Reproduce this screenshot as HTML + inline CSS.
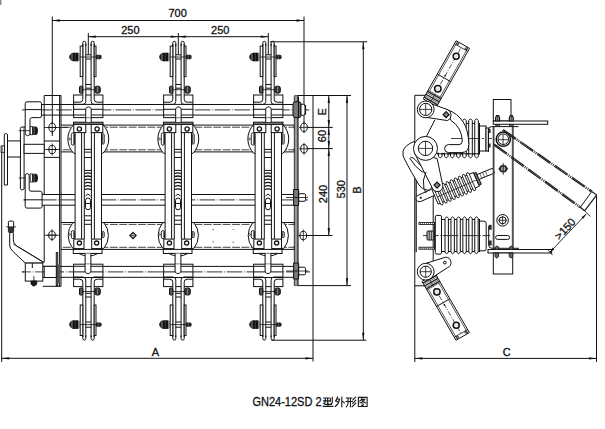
<!DOCTYPE html>
<html><head><meta charset="utf-8"><style>
html,body{margin:0;padding:0;background:#fff;}
svg{display:block;}
text{font-family:"Liberation Sans",sans-serif;fill:#111;stroke:#111;stroke-width:0.3px;}
</style></head><body>
<svg width="605" height="429" viewBox="0 0 605 429" stroke="#111" stroke-width="1" fill="none">
<line x1="52.3" y1="16.5" x2="52.3" y2="136" />
<line x1="304" y1="16.5" x2="304" y2="132" />
<line x1="52.3" y1="20.5" x2="304" y2="20.5" />
<path d="M52.3,20.5 L59.8,19.35 L59.8,21.65Z" fill="#111" stroke="none"/>
<path d="M304,20.5 L296.5,21.65 L296.5,19.35Z" fill="#111" stroke="none"/>
<text x="177.6" y="16.8" font-size="11" text-anchor="middle">700</text>
<line x1="88.3" y1="33" x2="88.3" y2="54.4" />
<line x1="178.3" y1="33" x2="178.3" y2="54.4" />
<line x1="268.3" y1="33" x2="268.3" y2="54.4" />
<line x1="88.3" y1="36.7" x2="268.3" y2="36.7" />
<path d="M88.3,36.7 L95.8,35.55 L95.8,37.85Z" fill="#111" stroke="none"/>
<path d="M178.3,36.7 L170.8,37.85 L170.8,35.55Z" fill="#111" stroke="none"/>
<path d="M178.3,36.7 L185.8,35.55 L185.8,37.85Z" fill="#111" stroke="none"/>
<path d="M268.3,36.7 L260.8,37.85 L260.8,35.55Z" fill="#111" stroke="none"/>
<text x="130.4" y="34.1" font-size="11" text-anchor="middle">250</text>
<text x="220.2" y="34.1" font-size="11" text-anchor="middle">250</text>
<line x1="270" y1="41.8" x2="367.2" y2="41.8" />
<line x1="295" y1="95.5" x2="351" y2="95.5" />
<line x1="313" y1="95.5" x2="313" y2="361.5" />
<line x1="328.8" y1="95.5" x2="328.8" y2="235.5" />
<path d="M328.8,95.5 L329.95,103 L327.65,103Z" fill="#111" stroke="none"/>
<path d="M328.8,127.4 L327.65,119.9 L329.95,119.9Z" fill="#111" stroke="none"/>
<path d="M328.8,127.4 L329.95,134.9 L327.65,134.9Z" fill="#111" stroke="none"/>
<path d="M328.8,148.6 L327.65,141.1 L329.95,141.1Z" fill="#111" stroke="none"/>
<path d="M328.8,148.6 L329.95,156.1 L327.65,156.1Z" fill="#111" stroke="none"/>
<path d="M328.8,235.5 L327.65,228 L329.95,228Z" fill="#111" stroke="none"/>
<line x1="300" y1="127.4" x2="332.8" y2="127.4" />
<line x1="300" y1="148.6" x2="332.8" y2="148.6" />
<line x1="299" y1="235.5" x2="332.5" y2="235.5" />
<line x1="347" y1="95.5" x2="347" y2="285.6" />
<path d="M347,95.5 L348.15,103 L345.85,103Z" fill="#111" stroke="none"/>
<path d="M347,285.6 L345.85,278.1 L348.15,278.1Z" fill="#111" stroke="none"/>
<line x1="294.6" y1="285.6" x2="351" y2="285.6" />
<line x1="363.3" y1="41.8" x2="363.3" y2="340.2" />
<path d="M363.3,41.8 L364.45,49.3 L362.15,49.3Z" fill="#111" stroke="none"/>
<path d="M363.3,340.2 L362.15,332.7 L364.45,332.7Z" fill="#111" stroke="none"/>
<line x1="271.5" y1="340.2" x2="366.4" y2="340.2" />
<text x="0" y="0" font-size="11" text-anchor="middle" transform="translate(326,111.8) rotate(-90)">E</text>
<text x="0" y="0" font-size="11" text-anchor="middle" transform="translate(326,136) rotate(-90)">60</text>
<text x="0" y="0" font-size="11" text-anchor="middle" transform="translate(326.5,194) rotate(-90)">240</text>
<text x="0" y="0" font-size="11" text-anchor="middle" transform="translate(344.6,189.3) rotate(-90)">530</text>
<text x="0" y="0" font-size="11" text-anchor="middle" transform="translate(361.3,190) rotate(-90)">B</text>
<line x1="1.7" y1="146" x2="1.7" y2="362" />
<line x1="1.7" y1="358.3" x2="313" y2="358.3" />
<path d="M1.7,358.3 L9.2,357.15 L9.2,359.45Z" fill="#111" stroke="none"/>
<path d="M313,358.3 L305.5,359.45 L305.5,357.15Z" fill="#111" stroke="none"/>
<text x="155.3" y="356" font-size="11" text-anchor="middle">A</text>
<line x1="41.5" y1="104.5" x2="293" y2="104.5" />
<line x1="41.5" y1="115.1" x2="293" y2="115.1" />
<line x1="22" y1="109.9" x2="310" y2="109.9" stroke-dasharray="15.6 1.7 0.8 1.7" stroke-dashoffset="5.4" stroke="#333"/>
<line x1="61" y1="125.1" x2="294.5" y2="125.1" />
<line x1="61" y1="151.9" x2="294.5" y2="151.9" />
<line x1="61" y1="127.2" x2="294.5" y2="127.2" stroke-dasharray="7.9 1.5" stroke-dashoffset="7.55" stroke="#444"/>
<line x1="61" y1="149.8" x2="294.5" y2="149.8" stroke-dasharray="7.9 1.5" stroke-dashoffset="7.55" stroke="#444"/>
<line x1="41.5" y1="194.5" x2="294.5" y2="194.5" />
<line x1="41.5" y1="205.2" x2="294.5" y2="205.2" />
<line x1="23.4" y1="199.9" x2="308" y2="199.9" stroke-dasharray="15.6 1.7 0.8 1.7" stroke-dashoffset="2.1" stroke="#333"/>
<line x1="61" y1="222.5" x2="294.5" y2="222.5" />
<line x1="61" y1="249.4" x2="294.5" y2="249.4" />
<line x1="61" y1="224.4" x2="294.5" y2="224.4" stroke-dasharray="7.9 1.5" stroke-dashoffset="7.55" stroke="#444"/>
<line x1="61" y1="247.3" x2="294.5" y2="247.3" stroke-dasharray="7.9 1.5" stroke-dashoffset="7.55" stroke="#444"/>
<line x1="42.8" y1="266.4" x2="294.5" y2="266.4" />
<line x1="42.8" y1="277.3" x2="294.5" y2="277.3" />
<line x1="21.9" y1="271.9" x2="310" y2="271.9" stroke-dasharray="15.6 1.7 0.8 1.7" stroke-dashoffset="13" stroke="#333"/>
<line x1="294.2" y1="125.2" x2="294.2" y2="128.5" />
<line x1="294.2" y1="148.5" x2="294.2" y2="151.3" />
<line x1="294.2" y1="222.4" x2="294.2" y2="225.5" />
<line x1="294.2" y1="246" x2="294.2" y2="249" />
<path d="M133,232.3 L136.2,235.5 L133,238.7 L129.8,235.5 Z" fill="#fff" stroke-width="1.1"/>
<line x1="130.6" y1="235.5" x2="135.4" y2="235.5" stroke-width="0.6" />
<line x1="133" y1="233.1" x2="133" y2="237.9" stroke-width="0.6" />
<circle cx="213.1" cy="229.7" r="0.6" fill="#333" stroke="none"/>
<circle cx="233.2" cy="229.5" r="0.6" fill="#333" stroke="none"/>
<circle cx="213.1" cy="241.9" r="0.6" fill="#333" stroke="none"/>
<circle cx="233.2" cy="242.2" r="0.6" fill="#333" stroke="none"/>
<line x1="44.2" y1="95.5" x2="44.2" y2="194.5" />
<line x1="44.2" y1="205.2" x2="44.2" y2="262.2" />
<line x1="59.6" y1="95.5" x2="59.6" y2="286.3" />
<line x1="61" y1="95.5" x2="61" y2="286.3" />
<line x1="44.2" y1="95.5" x2="61" y2="95.5" />
<line x1="42.8" y1="286.3" x2="61" y2="286.3" />
<line x1="44.2" y1="141" x2="59.6" y2="141" />
<line x1="44.2" y1="157.4" x2="59.6" y2="157.4" />
<rect x="294.3" y="95.5" width="3.7" height="190.1" fill="#9a9a9a" stroke="none"/>
<line x1="294.3" y1="95.5" x2="294.3" y2="285.6" stroke-width="0.8" />
<line x1="298" y1="95.5" x2="298" y2="285.6" stroke-width="1.1" />
<path d="M73.8,124.6 A20.4,20.4 0 0,0 73.8,153.4 L102.8,153.4 A20.4,20.4 0 0,0 102.8,124.6 Z" fill="#fff"/>
<path d="M72.8,222.6 A20.3,20.3 0 0,0 72.8,248.4 L103.8,248.4 A20.3,20.3 0 0,0 103.8,222.6 Z" fill="#fff"/>
<rect x="71.3" y="132.9" width="3.3" height="12.2" rx="1.6" fill="#fff" stroke-width="0.9"/>
<rect x="73.4" y="133.9" width="1.1" height="10.2" fill="#222" stroke="none"/>
<circle cx="69.5" cy="139" r="0.9" fill="#fff" stroke-width="0.7"/>
<rect x="101.8" y="133.9" width="2.4" height="10.2" rx="1" fill="#ddd" stroke-width="0.9"/>
<rect x="101.8" y="134.9" width="0.9" height="8.2" fill="#333" stroke="none"/>
<rect x="71.3" y="230.6" width="3.3" height="8" rx="1.6" fill="#fff" stroke-width="0.9"/>
<rect x="73.4" y="231.6" width="1.1" height="6" fill="#222" stroke="none"/>
<circle cx="69.5" cy="234.6" r="0.9" fill="#fff" stroke-width="0.7"/>
<rect x="101.8" y="231.6" width="2.4" height="6" rx="1" fill="#ddd" stroke-width="0.9"/>
<rect x="101.8" y="232.6" width="0.9" height="4" fill="#333" stroke="none"/>
<rect x="75.1" y="122" width="26.4" height="131.5" fill="#fff" stroke="none"/>
<line x1="75.1" y1="132.6" x2="75.1" y2="239.1" />
<line x1="81.6" y1="132.6" x2="81.6" y2="239.1" />
<line x1="84.3" y1="132.6" x2="84.3" y2="239.1" />
<line x1="91.4" y1="132.6" x2="91.4" y2="239.1" />
<line x1="94.4" y1="132.6" x2="94.4" y2="239.1" />
<line x1="101.5" y1="132.6" x2="101.5" y2="239.1" />
<rect x="73.5" y="122.2" width="29.5" height="2.2" fill="#888"/>
<rect x="73.8" y="124.4" width="12" height="8.2" fill="#fff"/>
<rect x="91.2" y="124.4" width="11.6" height="8.2" fill="#fff"/>
<circle cx="79.4" cy="129" r="2.1" fill="#fff" stroke-width="1.3"/>
<circle cx="97.1" cy="129" r="2.1" fill="#fff" stroke-width="1.3"/>
<rect x="73.8" y="239.1" width="10.2" height="9.5" fill="#fff"/>
<rect x="91.7" y="239.1" width="9.8" height="9.5" fill="#fff"/>
<circle cx="79.4" cy="243.1" r="2.1" fill="#fff" stroke-width="1.3"/>
<circle cx="96.6" cy="243.1" r="2.1" fill="#fff" stroke-width="1.3"/>
<rect x="73.3" y="249.4" width="28.7" height="4.1" fill="#fff"/>
<path d="M78.5,253.4 A20.3,20.3 0 0,0 98.1,253.4 Z" fill="#fff"/>
<path d="M85.7,122 V108.5 Q88.45,105.3 91.2,108.5 V122" fill="#fff"/>
<path d="M85.1,253.5 V272 Q88,275.2 90.9,272 V253.5" fill="#fff"/>
<line x1="84.3" y1="149.4" x2="91.4" y2="149.4" />
<line x1="84.3" y1="152.1" x2="91.4" y2="152.1" />
<line x1="84.3" y1="157.5" x2="91.4" y2="157.5" />
<line x1="84.3" y1="170.4" x2="91.4" y2="170.4" />
<line x1="84.3" y1="215.8" x2="91.4" y2="215.8" />
<line x1="84.3" y1="220.2" x2="91.4" y2="220.2" />
<line x1="84.3" y1="224.3" x2="91.4" y2="224.3" />
<path d="M84.7,173.5 Q87.9,172.1 91.1,173.5" stroke-width="1.3"/>
<path d="M84.7,176.7 Q87.9,175.3 91.1,176.7" stroke-width="1.3"/>
<path d="M84.7,179.9 Q87.9,178.5 91.1,179.9" stroke-width="1.3"/>
<path d="M84.7,183.1 Q87.9,181.7 91.1,183.1" stroke-width="1.3"/>
<path d="M84.7,186.3 Q87.9,184.9 91.1,186.3" stroke-width="1.3"/>
<path d="M84.7,189.5 Q87.9,188.1 91.1,189.5" stroke-width="1.3"/>
<path d="M85.5,196 L87.9,194 L90.5,196" />
<rect x="85.5" y="198" width="5" height="11.8" rx="2.5" fill="#fff"/>
<line x1="85.5" y1="203.5" x2="90.5" y2="203.5" />
<rect x="73.6" y="95" width="29.3" height="22.6" fill="#fff"/>
<line x1="73.6" y1="104.4" x2="102.9" y2="104.4" />
<line x1="73.6" y1="109.3" x2="102.9" y2="109.3" />
<line x1="73.6" y1="115" x2="102.9" y2="115" />
<rect x="73.6" y="264.2" width="29.3" height="22.4" fill="#fff"/>
<line x1="73.6" y1="266.3" x2="102.9" y2="266.3" />
<line x1="73.6" y1="271.9" x2="102.9" y2="271.9" />
<line x1="73.6" y1="277.5" x2="102.9" y2="277.5" />
<path d="M85.7,117.6 V108.5 Q88.45,105.3 91.2,108.5 V117.6" fill="#fff"/>
<path d="M85.1,264.2 V272 Q88,275.2 90.9,272 V264.2" fill="#fff"/>
<rect x="82.8" y="44" width="3" height="58.2" fill="#fff" stroke="none"/>
<rect x="91.1" y="44" width="3.1" height="58.2" fill="#fff" stroke="none"/>
<path d="M82.8,44 V99.2 Q82.8,102.2 79.8,102.2 H73.6" />
<path d="M85.8,44 V101.4 Q85.8,104.4 82.8,104.4 H73.6" />
<path d="M94.2,44 V99.2 Q94.2,102.2 97.2,102.2 H102.9" />
<path d="M91.1,44 V101.4 Q91.1,104.4 94.1,104.4 H102.9" />
<rect x="82.8" y="279.2" width="3" height="57.8" fill="#fff" stroke="none"/>
<rect x="91.1" y="279.2" width="3.1" height="57.8" fill="#fff" stroke="none"/>
<path d="M82.8,337 V282.2 Q82.8,279.2 79.8,279.2 H73.6" />
<path d="M85.8,337 V280 Q85.8,277 82.8,277 H73.6" />
<path d="M94.2,337 V282.2 Q94.2,279.2 97.2,279.2 H102.9" />
<path d="M91.1,337 V280 Q91.1,277 94.1,277 H102.9" />
<rect x="80.2" y="46.1" width="2.6" height="30.5" fill="#fff"/>
<rect x="94.2" y="46.1" width="1.8" height="30.5" fill="#fff"/>
<rect x="80.2" y="305" width="2.6" height="30.5" fill="#fff"/>
<rect x="94.2" y="305" width="1.8" height="30.5" fill="#fff"/>
<path d="M82.8,46 V42.8 A1.5,1.5 0 0,1 85.8,42.8 V46" />
<path d="M91.1,46 V42.8 A1.55,1.55 0 0,1 94.2,42.8 V46" />
<path d="M82.8,335.5 V338.6 A1.5,1.5 0 0,0 85.8,338.6 V335.5" />
<path d="M91.1,335.5 V338.6 A1.55,1.55 0 0,0 94.2,338.6 V335.5" />
<line x1="85.8" y1="54.8" x2="91.1" y2="54.8" />
<line x1="85.8" y1="59" x2="91.1" y2="59" />
<line x1="85.8" y1="84.5" x2="91.1" y2="84.5" />
<line x1="85.8" y1="88.2" x2="91.1" y2="88.2" />
<line x1="85.8" y1="297" x2="91.1" y2="297" />
<line x1="85.8" y1="322" x2="91.1" y2="322" />
<line x1="85.8" y1="327.2" x2="91.1" y2="327.2" />
<line x1="85.8" y1="293.3" x2="91.1" y2="293.3" />
<path d="M73,52.7 Q70.3,53.2 69,57 Q70.3,60.8 73,61.3 Z" fill="#222" stroke="none"/>
<rect x="73" y="52.7" width="5.5" height="8.6" fill="#111" stroke="none"/>
<rect x="78.5" y="53.4" width="1.7" height="7.2" fill="#777" stroke="none"/>
<line x1="72" y1="53.8" x2="72" y2="60.2" stroke-width="0.7" stroke="#aaa"/>
<line x1="75.3" y1="53" x2="75.3" y2="61" stroke-width="0.6" stroke="#555"/>
<path d="M95.9,54.8 H99.9 Q101.7,54.8 101.7,57 Q101.7,59.2 99.9,59.2 H95.9 Z" fill="#222" stroke="none"/>
<line x1="98.3" y1="55" x2="98.3" y2="59" stroke-width="0.5" stroke="#888"/>
<line x1="80.1" y1="57" x2="96" y2="57" stroke-width="0.8" />
<path d="M73,320.3 Q70.3,320.8 69,324.6 Q70.3,328.4 73,328.9 Z" fill="#222" stroke="none"/>
<rect x="73" y="320.3" width="5.5" height="8.6" fill="#111" stroke="none"/>
<rect x="78.5" y="321" width="1.7" height="7.2" fill="#777" stroke="none"/>
<line x1="72" y1="321.4" x2="72" y2="327.8" stroke-width="0.7" stroke="#aaa"/>
<line x1="75.3" y1="320.6" x2="75.3" y2="328.6" stroke-width="0.6" stroke="#555"/>
<path d="M95.9,322.4 H99.9 Q101.7,322.4 101.7,324.6 Q101.7,326.8 99.9,326.8 H95.9 Z" fill="#222" stroke="none"/>
<line x1="98.3" y1="322.6" x2="98.3" y2="326.6" stroke-width="0.5" stroke="#888"/>
<line x1="80.1" y1="324.6" x2="96" y2="324.6" stroke-width="0.8" />
<rect x="79.5" y="86.2" width="3.3" height="7" rx="1" fill="#3a3a3a"/>
<rect x="94.8" y="86.2" width="5.5" height="7" rx="2" fill="#3a3a3a"/>
<line x1="81.1" y1="86.7" x2="81.1" y2="92.7" stroke-width="0.6" stroke="#aaa"/>
<line x1="97.5" y1="86.7" x2="97.5" y2="92.7" stroke-width="0.6" stroke="#aaa"/>
<line x1="82.8" y1="89.7" x2="94.8" y2="89.7" stroke-width="0.8" />
<rect x="79.5" y="288" width="3.3" height="7" rx="1" fill="#3a3a3a"/>
<rect x="94.8" y="288" width="5.5" height="7" rx="2" fill="#3a3a3a"/>
<line x1="81.1" y1="288.5" x2="81.1" y2="294.5" stroke-width="0.6" stroke="#aaa"/>
<line x1="97.5" y1="288.5" x2="97.5" y2="294.5" stroke-width="0.6" stroke="#aaa"/>
<line x1="82.8" y1="291.5" x2="94.8" y2="291.5" stroke-width="0.8" />
<path d="M163.8,124.6 A20.4,20.4 0 0,0 163.8,153.4 L192.8,153.4 A20.4,20.4 0 0,0 192.8,124.6 Z" fill="#fff"/>
<path d="M162.8,222.6 A20.3,20.3 0 0,0 162.8,248.4 L193.8,248.4 A20.3,20.3 0 0,0 193.8,222.6 Z" fill="#fff"/>
<rect x="161.3" y="132.9" width="3.3" height="12.2" rx="1.6" fill="#fff" stroke-width="0.9"/>
<rect x="163.4" y="133.9" width="1.1" height="10.2" fill="#222" stroke="none"/>
<circle cx="159.5" cy="139" r="0.9" fill="#fff" stroke-width="0.7"/>
<rect x="191.8" y="133.9" width="2.4" height="10.2" rx="1" fill="#ddd" stroke-width="0.9"/>
<rect x="191.8" y="134.9" width="0.9" height="8.2" fill="#333" stroke="none"/>
<rect x="161.3" y="230.6" width="3.3" height="8" rx="1.6" fill="#fff" stroke-width="0.9"/>
<rect x="163.4" y="231.6" width="1.1" height="6" fill="#222" stroke="none"/>
<circle cx="159.5" cy="234.6" r="0.9" fill="#fff" stroke-width="0.7"/>
<rect x="191.8" y="231.6" width="2.4" height="6" rx="1" fill="#ddd" stroke-width="0.9"/>
<rect x="191.8" y="232.6" width="0.9" height="4" fill="#333" stroke="none"/>
<rect x="165.1" y="122" width="26.4" height="131.5" fill="#fff" stroke="none"/>
<line x1="165.1" y1="132.6" x2="165.1" y2="239.1" />
<line x1="171.6" y1="132.6" x2="171.6" y2="239.1" />
<line x1="174.3" y1="132.6" x2="174.3" y2="239.1" />
<line x1="181.4" y1="132.6" x2="181.4" y2="239.1" />
<line x1="184.4" y1="132.6" x2="184.4" y2="239.1" />
<line x1="191.5" y1="132.6" x2="191.5" y2="239.1" />
<rect x="163.5" y="122.2" width="29.5" height="2.2" fill="#888"/>
<rect x="163.8" y="124.4" width="12" height="8.2" fill="#fff"/>
<rect x="181.2" y="124.4" width="11.6" height="8.2" fill="#fff"/>
<circle cx="169.4" cy="129" r="2.1" fill="#fff" stroke-width="1.3"/>
<circle cx="187.1" cy="129" r="2.1" fill="#fff" stroke-width="1.3"/>
<rect x="163.8" y="239.1" width="10.2" height="9.5" fill="#fff"/>
<rect x="181.7" y="239.1" width="9.8" height="9.5" fill="#fff"/>
<circle cx="169.4" cy="243.1" r="2.1" fill="#fff" stroke-width="1.3"/>
<circle cx="186.6" cy="243.1" r="2.1" fill="#fff" stroke-width="1.3"/>
<rect x="163.3" y="249.4" width="28.7" height="4.1" fill="#fff"/>
<path d="M168.5,253.4 A20.3,20.3 0 0,0 188.1,253.4 Z" fill="#fff"/>
<path d="M175.7,122 V108.5 Q178.45,105.3 181.2,108.5 V122" fill="#fff"/>
<path d="M175.1,253.5 V272 Q178,275.2 180.9,272 V253.5" fill="#fff"/>
<line x1="174.3" y1="149.4" x2="181.4" y2="149.4" />
<line x1="174.3" y1="152.1" x2="181.4" y2="152.1" />
<line x1="174.3" y1="157.5" x2="181.4" y2="157.5" />
<line x1="174.3" y1="170.4" x2="181.4" y2="170.4" />
<line x1="174.3" y1="215.8" x2="181.4" y2="215.8" />
<line x1="174.3" y1="220.2" x2="181.4" y2="220.2" />
<line x1="174.3" y1="224.3" x2="181.4" y2="224.3" />
<path d="M174.7,173.5 Q177.9,172.1 181.1,173.5" stroke-width="1.3"/>
<path d="M174.7,176.7 Q177.9,175.3 181.1,176.7" stroke-width="1.3"/>
<path d="M174.7,179.9 Q177.9,178.5 181.1,179.9" stroke-width="1.3"/>
<path d="M174.7,183.1 Q177.9,181.7 181.1,183.1" stroke-width="1.3"/>
<path d="M174.7,186.3 Q177.9,184.9 181.1,186.3" stroke-width="1.3"/>
<path d="M174.7,189.5 Q177.9,188.1 181.1,189.5" stroke-width="1.3"/>
<path d="M175.5,196 L177.9,194 L180.5,196" />
<rect x="175.5" y="198" width="5" height="11.8" rx="2.5" fill="#fff"/>
<line x1="175.5" y1="203.5" x2="180.5" y2="203.5" />
<rect x="163.6" y="95" width="29.3" height="22.6" fill="#fff"/>
<line x1="163.6" y1="104.4" x2="192.9" y2="104.4" />
<line x1="163.6" y1="109.3" x2="192.9" y2="109.3" />
<line x1="163.6" y1="115" x2="192.9" y2="115" />
<rect x="163.6" y="264.2" width="29.3" height="22.4" fill="#fff"/>
<line x1="163.6" y1="266.3" x2="192.9" y2="266.3" />
<line x1="163.6" y1="271.9" x2="192.9" y2="271.9" />
<line x1="163.6" y1="277.5" x2="192.9" y2="277.5" />
<path d="M175.7,117.6 V108.5 Q178.45,105.3 181.2,108.5 V117.6" fill="#fff"/>
<path d="M175.1,264.2 V272 Q178,275.2 180.9,272 V264.2" fill="#fff"/>
<rect x="172.8" y="44" width="3" height="58.2" fill="#fff" stroke="none"/>
<rect x="181.1" y="44" width="3.1" height="58.2" fill="#fff" stroke="none"/>
<path d="M172.8,44 V99.2 Q172.8,102.2 169.8,102.2 H163.6" />
<path d="M175.8,44 V101.4 Q175.8,104.4 172.8,104.4 H163.6" />
<path d="M184.2,44 V99.2 Q184.2,102.2 187.2,102.2 H192.9" />
<path d="M181.1,44 V101.4 Q181.1,104.4 184.1,104.4 H192.9" />
<rect x="172.8" y="279.2" width="3" height="57.8" fill="#fff" stroke="none"/>
<rect x="181.1" y="279.2" width="3.1" height="57.8" fill="#fff" stroke="none"/>
<path d="M172.8,337 V282.2 Q172.8,279.2 169.8,279.2 H163.6" />
<path d="M175.8,337 V280 Q175.8,277 172.8,277 H163.6" />
<path d="M184.2,337 V282.2 Q184.2,279.2 187.2,279.2 H192.9" />
<path d="M181.1,337 V280 Q181.1,277 184.1,277 H192.9" />
<rect x="170.2" y="46.1" width="2.6" height="30.5" fill="#fff"/>
<rect x="184.2" y="46.1" width="1.8" height="30.5" fill="#fff"/>
<rect x="170.2" y="305" width="2.6" height="30.5" fill="#fff"/>
<rect x="184.2" y="305" width="1.8" height="30.5" fill="#fff"/>
<path d="M172.8,46 V42.8 A1.5,1.5 0 0,1 175.8,42.8 V46" />
<path d="M181.1,46 V42.8 A1.55,1.55 0 0,1 184.2,42.8 V46" />
<path d="M172.8,335.5 V338.6 A1.5,1.5 0 0,0 175.8,338.6 V335.5" />
<path d="M181.1,335.5 V338.6 A1.55,1.55 0 0,0 184.2,338.6 V335.5" />
<line x1="175.8" y1="54.8" x2="181.1" y2="54.8" />
<line x1="175.8" y1="59" x2="181.1" y2="59" />
<line x1="175.8" y1="84.5" x2="181.1" y2="84.5" />
<line x1="175.8" y1="88.2" x2="181.1" y2="88.2" />
<line x1="175.8" y1="297" x2="181.1" y2="297" />
<line x1="175.8" y1="322" x2="181.1" y2="322" />
<line x1="175.8" y1="327.2" x2="181.1" y2="327.2" />
<line x1="175.8" y1="293.3" x2="181.1" y2="293.3" />
<path d="M163,52.7 Q160.3,53.2 159,57 Q160.3,60.8 163,61.3 Z" fill="#222" stroke="none"/>
<rect x="163" y="52.7" width="5.5" height="8.6" fill="#111" stroke="none"/>
<rect x="168.5" y="53.4" width="1.7" height="7.2" fill="#777" stroke="none"/>
<line x1="162" y1="53.8" x2="162" y2="60.2" stroke-width="0.7" stroke="#aaa"/>
<line x1="165.3" y1="53" x2="165.3" y2="61" stroke-width="0.6" stroke="#555"/>
<path d="M185.9,54.8 H189.9 Q191.7,54.8 191.7,57 Q191.7,59.2 189.9,59.2 H185.9 Z" fill="#222" stroke="none"/>
<line x1="188.3" y1="55" x2="188.3" y2="59" stroke-width="0.5" stroke="#888"/>
<line x1="170.1" y1="57" x2="186" y2="57" stroke-width="0.8" />
<path d="M163,320.3 Q160.3,320.8 159,324.6 Q160.3,328.4 163,328.9 Z" fill="#222" stroke="none"/>
<rect x="163" y="320.3" width="5.5" height="8.6" fill="#111" stroke="none"/>
<rect x="168.5" y="321" width="1.7" height="7.2" fill="#777" stroke="none"/>
<line x1="162" y1="321.4" x2="162" y2="327.8" stroke-width="0.7" stroke="#aaa"/>
<line x1="165.3" y1="320.6" x2="165.3" y2="328.6" stroke-width="0.6" stroke="#555"/>
<path d="M185.9,322.4 H189.9 Q191.7,322.4 191.7,324.6 Q191.7,326.8 189.9,326.8 H185.9 Z" fill="#222" stroke="none"/>
<line x1="188.3" y1="322.6" x2="188.3" y2="326.6" stroke-width="0.5" stroke="#888"/>
<line x1="170.1" y1="324.6" x2="186" y2="324.6" stroke-width="0.8" />
<rect x="169.5" y="86.2" width="3.3" height="7" rx="1" fill="#3a3a3a"/>
<rect x="184.8" y="86.2" width="5.5" height="7" rx="2" fill="#3a3a3a"/>
<line x1="171.1" y1="86.7" x2="171.1" y2="92.7" stroke-width="0.6" stroke="#aaa"/>
<line x1="187.5" y1="86.7" x2="187.5" y2="92.7" stroke-width="0.6" stroke="#aaa"/>
<line x1="172.8" y1="89.7" x2="184.8" y2="89.7" stroke-width="0.8" />
<rect x="169.5" y="288" width="3.3" height="7" rx="1" fill="#3a3a3a"/>
<rect x="184.8" y="288" width="5.5" height="7" rx="2" fill="#3a3a3a"/>
<line x1="171.1" y1="288.5" x2="171.1" y2="294.5" stroke-width="0.6" stroke="#aaa"/>
<line x1="187.5" y1="288.5" x2="187.5" y2="294.5" stroke-width="0.6" stroke="#aaa"/>
<line x1="172.8" y1="291.5" x2="184.8" y2="291.5" stroke-width="0.8" />
<path d="M253.8,124.6 A20.4,20.4 0 0,0 253.8,153.4 L282.8,153.4 A20.4,20.4 0 0,0 282.8,124.6 Z" fill="#fff"/>
<path d="M252.8,222.6 A20.3,20.3 0 0,0 252.8,248.4 L283.8,248.4 A20.3,20.3 0 0,0 283.8,222.6 Z" fill="#fff"/>
<rect x="251.3" y="132.9" width="3.3" height="12.2" rx="1.6" fill="#fff" stroke-width="0.9"/>
<rect x="253.4" y="133.9" width="1.1" height="10.2" fill="#222" stroke="none"/>
<circle cx="249.5" cy="139" r="0.9" fill="#fff" stroke-width="0.7"/>
<rect x="281.8" y="133.9" width="2.4" height="10.2" rx="1" fill="#ddd" stroke-width="0.9"/>
<rect x="281.8" y="134.9" width="0.9" height="8.2" fill="#333" stroke="none"/>
<rect x="251.3" y="230.6" width="3.3" height="8" rx="1.6" fill="#fff" stroke-width="0.9"/>
<rect x="253.4" y="231.6" width="1.1" height="6" fill="#222" stroke="none"/>
<circle cx="249.5" cy="234.6" r="0.9" fill="#fff" stroke-width="0.7"/>
<rect x="281.8" y="231.6" width="2.4" height="6" rx="1" fill="#ddd" stroke-width="0.9"/>
<rect x="281.8" y="232.6" width="0.9" height="4" fill="#333" stroke="none"/>
<rect x="255.1" y="122" width="26.4" height="131.5" fill="#fff" stroke="none"/>
<line x1="255.1" y1="132.6" x2="255.1" y2="239.1" />
<line x1="261.6" y1="132.6" x2="261.6" y2="239.1" />
<line x1="264.3" y1="132.6" x2="264.3" y2="239.1" />
<line x1="271.4" y1="132.6" x2="271.4" y2="239.1" />
<line x1="274.4" y1="132.6" x2="274.4" y2="239.1" />
<line x1="281.5" y1="132.6" x2="281.5" y2="239.1" />
<rect x="253.5" y="122.2" width="29.5" height="2.2" fill="#888"/>
<rect x="253.8" y="124.4" width="12" height="8.2" fill="#fff"/>
<rect x="271.2" y="124.4" width="11.6" height="8.2" fill="#fff"/>
<circle cx="259.4" cy="129" r="2.1" fill="#fff" stroke-width="1.3"/>
<circle cx="277.1" cy="129" r="2.1" fill="#fff" stroke-width="1.3"/>
<rect x="253.8" y="239.1" width="10.2" height="9.5" fill="#fff"/>
<rect x="271.7" y="239.1" width="9.8" height="9.5" fill="#fff"/>
<circle cx="259.4" cy="243.1" r="2.1" fill="#fff" stroke-width="1.3"/>
<circle cx="276.6" cy="243.1" r="2.1" fill="#fff" stroke-width="1.3"/>
<rect x="253.3" y="249.4" width="28.7" height="4.1" fill="#fff"/>
<path d="M258.5,253.4 A20.3,20.3 0 0,0 278.1,253.4 Z" fill="#fff"/>
<path d="M265.7,122 V108.5 Q268.45,105.3 271.2,108.5 V122" fill="#fff"/>
<path d="M265.1,253.5 V272 Q268,275.2 270.9,272 V253.5" fill="#fff"/>
<line x1="264.3" y1="149.4" x2="271.4" y2="149.4" />
<line x1="264.3" y1="152.1" x2="271.4" y2="152.1" />
<line x1="264.3" y1="157.5" x2="271.4" y2="157.5" />
<line x1="264.3" y1="170.4" x2="271.4" y2="170.4" />
<line x1="264.3" y1="215.8" x2="271.4" y2="215.8" />
<line x1="264.3" y1="220.2" x2="271.4" y2="220.2" />
<line x1="264.3" y1="224.3" x2="271.4" y2="224.3" />
<path d="M264.7,173.5 Q267.9,172.1 271.1,173.5" stroke-width="1.3"/>
<path d="M264.7,176.7 Q267.9,175.3 271.1,176.7" stroke-width="1.3"/>
<path d="M264.7,179.9 Q267.9,178.5 271.1,179.9" stroke-width="1.3"/>
<path d="M264.7,183.1 Q267.9,181.7 271.1,183.1" stroke-width="1.3"/>
<path d="M264.7,186.3 Q267.9,184.9 271.1,186.3" stroke-width="1.3"/>
<path d="M264.7,189.5 Q267.9,188.1 271.1,189.5" stroke-width="1.3"/>
<path d="M265.5,196 L267.9,194 L270.5,196" />
<rect x="265.5" y="198" width="5" height="11.8" rx="2.5" fill="#fff"/>
<line x1="265.5" y1="203.5" x2="270.5" y2="203.5" />
<rect x="253.6" y="95" width="29.3" height="22.6" fill="#fff"/>
<line x1="253.6" y1="104.4" x2="282.9" y2="104.4" />
<line x1="253.6" y1="109.3" x2="282.9" y2="109.3" />
<line x1="253.6" y1="115" x2="282.9" y2="115" />
<rect x="253.6" y="264.2" width="29.3" height="22.4" fill="#fff"/>
<line x1="253.6" y1="266.3" x2="282.9" y2="266.3" />
<line x1="253.6" y1="271.9" x2="282.9" y2="271.9" />
<line x1="253.6" y1="277.5" x2="282.9" y2="277.5" />
<path d="M265.7,117.6 V108.5 Q268.45,105.3 271.2,108.5 V117.6" fill="#fff"/>
<path d="M265.1,264.2 V272 Q268,275.2 270.9,272 V264.2" fill="#fff"/>
<rect x="262.8" y="44" width="3" height="58.2" fill="#fff" stroke="none"/>
<rect x="271.1" y="44" width="3.1" height="58.2" fill="#fff" stroke="none"/>
<path d="M262.8,44 V99.2 Q262.8,102.2 259.8,102.2 H253.6" />
<path d="M265.8,44 V101.4 Q265.8,104.4 262.8,104.4 H253.6" />
<path d="M274.2,44 V99.2 Q274.2,102.2 277.2,102.2 H282.9" />
<path d="M271.1,44 V101.4 Q271.1,104.4 274.1,104.4 H282.9" />
<rect x="262.8" y="279.2" width="3" height="57.8" fill="#fff" stroke="none"/>
<rect x="271.1" y="279.2" width="3.1" height="57.8" fill="#fff" stroke="none"/>
<path d="M262.8,337 V282.2 Q262.8,279.2 259.8,279.2 H253.6" />
<path d="M265.8,337 V280 Q265.8,277 262.8,277 H253.6" />
<path d="M274.2,337 V282.2 Q274.2,279.2 277.2,279.2 H282.9" />
<path d="M271.1,337 V280 Q271.1,277 274.1,277 H282.9" />
<rect x="260.2" y="46.1" width="2.6" height="30.5" fill="#fff"/>
<rect x="274.2" y="46.1" width="1.8" height="30.5" fill="#fff"/>
<rect x="260.2" y="305" width="2.6" height="30.5" fill="#fff"/>
<rect x="274.2" y="305" width="1.8" height="30.5" fill="#fff"/>
<path d="M262.8,46 V42.8 A1.5,1.5 0 0,1 265.8,42.8 V46" />
<path d="M271.1,46 V42.8 A1.55,1.55 0 0,1 274.2,42.8 V46" />
<path d="M262.8,335.5 V338.6 A1.5,1.5 0 0,0 265.8,338.6 V335.5" />
<path d="M271.1,335.5 V338.6 A1.55,1.55 0 0,0 274.2,338.6 V335.5" />
<line x1="265.8" y1="54.8" x2="271.1" y2="54.8" />
<line x1="265.8" y1="59" x2="271.1" y2="59" />
<line x1="265.8" y1="84.5" x2="271.1" y2="84.5" />
<line x1="265.8" y1="88.2" x2="271.1" y2="88.2" />
<line x1="265.8" y1="297" x2="271.1" y2="297" />
<line x1="265.8" y1="322" x2="271.1" y2="322" />
<line x1="265.8" y1="327.2" x2="271.1" y2="327.2" />
<line x1="265.8" y1="293.3" x2="271.1" y2="293.3" />
<path d="M253,52.7 Q250.3,53.2 249,57 Q250.3,60.8 253,61.3 Z" fill="#222" stroke="none"/>
<rect x="253" y="52.7" width="5.5" height="8.6" fill="#111" stroke="none"/>
<rect x="258.5" y="53.4" width="1.7" height="7.2" fill="#777" stroke="none"/>
<line x1="252" y1="53.8" x2="252" y2="60.2" stroke-width="0.7" stroke="#aaa"/>
<line x1="255.3" y1="53" x2="255.3" y2="61" stroke-width="0.6" stroke="#555"/>
<path d="M275.9,54.8 H279.9 Q281.7,54.8 281.7,57 Q281.7,59.2 279.9,59.2 H275.9 Z" fill="#222" stroke="none"/>
<line x1="278.3" y1="55" x2="278.3" y2="59" stroke-width="0.5" stroke="#888"/>
<line x1="260.1" y1="57" x2="276" y2="57" stroke-width="0.8" />
<path d="M253,320.3 Q250.3,320.8 249,324.6 Q250.3,328.4 253,328.9 Z" fill="#222" stroke="none"/>
<rect x="253" y="320.3" width="5.5" height="8.6" fill="#111" stroke="none"/>
<rect x="258.5" y="321" width="1.7" height="7.2" fill="#777" stroke="none"/>
<line x1="252" y1="321.4" x2="252" y2="327.8" stroke-width="0.7" stroke="#aaa"/>
<line x1="255.3" y1="320.6" x2="255.3" y2="328.6" stroke-width="0.6" stroke="#555"/>
<path d="M275.9,322.4 H279.9 Q281.7,322.4 281.7,324.6 Q281.7,326.8 279.9,326.8 H275.9 Z" fill="#222" stroke="none"/>
<line x1="278.3" y1="322.6" x2="278.3" y2="326.6" stroke-width="0.5" stroke="#888"/>
<line x1="260.1" y1="324.6" x2="276" y2="324.6" stroke-width="0.8" />
<rect x="259.5" y="86.2" width="3.3" height="7" rx="1" fill="#3a3a3a"/>
<rect x="274.8" y="86.2" width="5.5" height="7" rx="2" fill="#3a3a3a"/>
<line x1="261.1" y1="86.7" x2="261.1" y2="92.7" stroke-width="0.6" stroke="#aaa"/>
<line x1="277.5" y1="86.7" x2="277.5" y2="92.7" stroke-width="0.6" stroke="#aaa"/>
<line x1="262.8" y1="89.7" x2="274.8" y2="89.7" stroke-width="0.8" />
<rect x="259.5" y="288" width="3.3" height="7" rx="1" fill="#3a3a3a"/>
<rect x="274.8" y="288" width="5.5" height="7" rx="2" fill="#3a3a3a"/>
<line x1="261.1" y1="288.5" x2="261.1" y2="294.5" stroke-width="0.6" stroke="#aaa"/>
<line x1="277.5" y1="288.5" x2="277.5" y2="294.5" stroke-width="0.6" stroke="#aaa"/>
<line x1="262.8" y1="291.5" x2="274.8" y2="291.5" stroke-width="0.8" />
<path d="M25.2,134.5 V103.6 Q25.2,101.8 27,101.8 H39.7 Q41.5,101.8 41.5,103.6 V115.8 Q41.5,117.6 39.7,117.6 H31.8 Q30,117.6 30,119.4 V134.5 Q27.6,137 25.2,134.5 Z" fill="#fff"/>
<line x1="25.2" y1="109.6" x2="41.5" y2="109.6" />
<path d="M20.4,189 V128.5 Q20.4,127 22,127 H25.2 M24.1,127 V189 Q22.2,191 20.4,189" fill="#fff"/>
<rect x="30.2" y="126.7" width="2.2" height="8" fill="#fff" stroke-width="0.8"/>
<path d="M32.4,126.5 H36 Q38,127.2 38,130.7 Q38,134.2 36,134.9 H32.4 Z" fill="#1a1a1a" stroke="none"/>
<line x1="34.2" y1="126.7" x2="34.2" y2="134.7" stroke-width="0.6" stroke="#999"/>
<line x1="18.7" y1="130.7" x2="30.2" y2="130.7" stroke-width="0.8" />
<rect x="30.2" y="174" width="2.2" height="8" fill="#fff" stroke-width="0.8"/>
<path d="M32.4,173.8 H36 Q38,174.5 38,178 Q38,181.5 36,182.2 H32.4 Z" fill="#1a1a1a" stroke="none"/>
<line x1="34.2" y1="174" x2="34.2" y2="182" stroke-width="0.6" stroke="#999"/>
<line x1="18.7" y1="178" x2="30.2" y2="178" stroke-width="0.8" />
<path d="M25.2,174.6 Q27.2,172.4 29.2,174.6 V189.4 Q29.2,191.2 31,191.2 H40.3 Q42.1,191.2 42.1,193 V206.3 Q42.1,208.1 40.3,208.1 H27 Q25.2,208.1 25.2,206.3 Z" fill="#fff"/>
<line x1="24" y1="199.8" x2="42.1" y2="199.8" />
<rect x="7.5" y="140.9" width="13" height="16.1" fill="#fff"/>
<rect x="24.1" y="144.3" width="20.1" height="9.1" fill="#fff"/>
<path d="M4.3,185 V134.4 Q5.9,132.4 7.5,134.4 V185 Z" fill="#fff"/>
<rect x="1.1" y="145.9" width="3.5" height="6.4" fill="#fff" stroke-width="0.9"/>
<line x1="2.6" y1="146.5" x2="2.6" y2="151.7" stroke-width="0.6" />
<path d="M9.7,232.5 V245 Q9.7,248.5 12.5,251 L25.3,263.1 H42.8 V261.8 L21,248.5 Q13.3,245 13.3,240 V232.5" fill="#fff"/>
<line x1="13.3" y1="244" x2="42.8" y2="261.8" stroke-width="0.8" />
<rect x="8.4" y="221.1" width="5.2" height="11.4" rx="1" fill="#fff"/>
<rect x="8.8" y="226.9" width="4.4" height="5.6" fill="#333" stroke="none"/>
<line x1="6.1" y1="226.9" x2="16.1" y2="226.9" stroke-width="0.8" />
<rect x="25.3" y="263.1" width="17.5" height="18" fill="#fff"/>
<line x1="32.3" y1="263.1" x2="32.3" y2="268" />
<line x1="21.9" y1="271.9" x2="44" y2="271.9" stroke-width="0.9" stroke-dasharray="9 1.7 0.8 1.7" stroke="#333"/>
<path d="M31.1,281.1 H36.7 V284 Q33.9,288 31.1,284 Z" fill="#1a1a1a"/>
<line x1="33.9" y1="281.1" x2="33.9" y2="276" stroke-width="0.8" />
<rect x="56.3" y="252.6" width="1.4" height="33" fill="#fff"/>
<rect x="57.6" y="264.5" width="2.4" height="19" fill="#555" stroke="none"/>
<rect x="44.2" y="266.3" width="12.1" height="11.2" fill="#fff"/>
<line x1="42.8" y1="262.2" x2="44.2" y2="262.2" />
<ellipse cx="52.2" cy="127.5" rx="3.3" ry="4.2" fill="#fff"/>
<line x1="47.2" y1="127.5" x2="57.2" y2="127.5" stroke-width="0.8" />
<line x1="52.2" y1="121.5" x2="52.2" y2="133.5" stroke-width="0.8" />
<ellipse cx="52.2" cy="149.5" rx="3.3" ry="4.2" fill="#fff"/>
<line x1="47.2" y1="149.5" x2="57.2" y2="149.5" stroke-width="0.8" />
<line x1="52.2" y1="143.5" x2="52.2" y2="155.5" stroke-width="0.8" />
<ellipse cx="52" cy="235.2" rx="3.3" ry="4.2" fill="#fff"/>
<line x1="47" y1="235.2" x2="57" y2="235.2" stroke-width="0.8" />
<line x1="52" y1="229.2" x2="52" y2="241.2" stroke-width="0.8" />
<ellipse cx="304" cy="127.4" rx="3.3" ry="4.2" fill="#fff"/>
<line x1="299" y1="127.4" x2="309" y2="127.4" stroke-width="0.8" />
<line x1="304" y1="121.4" x2="304" y2="133.4" stroke-width="0.8" />
<ellipse cx="304" cy="148.8" rx="3.3" ry="4.2" fill="#fff"/>
<line x1="299" y1="148.8" x2="309" y2="148.8" stroke-width="0.8" />
<line x1="304" y1="142.8" x2="304" y2="154.8" stroke-width="0.8" />
<ellipse cx="303.3" cy="235.5" rx="3.3" ry="4.2" fill="#fff"/>
<line x1="298.3" y1="235.5" x2="308.3" y2="235.5" stroke-width="0.8" />
<line x1="303.3" y1="229.5" x2="303.3" y2="241.5" stroke-width="0.8" />
<line x1="44" y1="127.5" x2="68" y2="127.5" stroke-width="0.8" />
<line x1="44" y1="149.5" x2="60" y2="149.5" stroke-width="0.8" />
<line x1="44" y1="235.2" x2="60" y2="235.2" stroke-width="0.8" />
<path d="M293,104 Q293,101.7 296,101.7 H298.5 Q301,101.7 301,104 V115.4 Q301,117.7 298.5,117.7 H296 Q293,117.7 293,115.4 Z" fill="#777"/>
<line x1="298.5" y1="97" x2="298.5" y2="118" stroke-width="1.1" />
<path d="M301,104.3 H303.5 Q305.5,104.3 305.5,107 V112.5 Q305.5,115.2 303.5,115.2 H301 Z" fill="#fff"/>
<line x1="305.3" y1="105" x2="305.3" y2="114.5" stroke-width="1.6" />
<path d="M293.6,189.5 H298.6 V205.5 H293.6 Z" fill="#777"/>
<rect x="298.6" y="193.7" width="7" height="7.6" rx="1.5" fill="#fff"/>
<line x1="286" y1="197.5" x2="308" y2="197.5" stroke-width="0.8" />
<line x1="298.6" y1="191.5" x2="298.6" y2="203.5" />
<path d="M293.6,263 H298.6 V279 H293.6 Z" fill="#777"/>
<rect x="298.6" y="267.2" width="7" height="7.6" rx="1.5" fill="#fff"/>
<line x1="286" y1="271" x2="308" y2="271" stroke-width="0.8" />
<line x1="298.6" y1="265" x2="298.6" y2="277" />
<rect x="0" y="0" width="1.4" height="5" fill="#888" stroke="none"/>
<rect x="414.4" y="172.6" width="2.2" height="80" fill="#bbb" stroke="none"/>
<line x1="414.8" y1="95.3" x2="414.8" y2="362" />
<line x1="414.8" y1="95.3" x2="427" y2="95.3" />
<line x1="414.3" y1="285.8" x2="426" y2="285.8" />
<line x1="416.4" y1="172.6" x2="416.4" y2="252" stroke-width="0.8" />
<line x1="433.2" y1="174" x2="433.2" y2="262" />
<path d="M423.25,98.86 L436.65,106.44 L469.55,48.34 L456.15,40.76Z" fill="#fff"/>
<line x1="429.57" y1="90.94" x2="457.54" y2="41.54" stroke-width="0.7" />
<line x1="440.19" y1="96.95" x2="468.16" y2="47.56" stroke-width="0.7" />
<path d="M423.84,97.81 L437.24,105.4 L437.93,104.18 L424.53,96.59Z" fill="#222" stroke="none"/>
<path d="M425.52,94.85 L438.92,102.44 L439.61,101.22 L426.21,93.63Z" fill="#222" stroke="none"/>
<path d="M427.19,91.89 L440.59,99.48 L441.28,98.26 L427.88,90.68Z" fill="#222" stroke="none"/>
<line x1="425.02" y1="95.72" x2="438.42" y2="103.31" stroke-width="0.6" />
<line x1="426.7" y1="92.76" x2="440.1" y2="100.35" stroke-width="0.6" />
<line x1="428.18" y1="90.15" x2="441.58" y2="97.74" stroke-width="0.6" />
<line x1="430.21" y1="102.8" x2="435.14" y2="94.1" stroke-width="0.6" />
<line x1="437.29" y1="74.06" x2="450.69" y2="81.64" />
<line x1="454.43" y1="43.8" x2="467.83" y2="51.39" stroke-width="0.8" />
<line x1="435.86" y1="92.21" x2="461.37" y2="47.16" stroke-width="0.7" stroke-dasharray="5 1.5 1 1.5"/>
<circle cx="437.83" cy="88.73" r="3.2" fill="#fff" stroke-width="1.5"/>
<circle cx="437.83" cy="88.73" r="1.6" fill="#ddd" stroke="none"/>
<circle cx="456.16" cy="56.36" r="3" fill="#fff" stroke-width="1.5"/>
<circle cx="456.16" cy="56.36" r="1.4" fill="#ddd" stroke="none"/>
<circle cx="457.6" cy="43.88" r="1" fill="#fff"/>
<circle cx="466.13" cy="48.7" r="1" fill="#fff"/>
<circle cx="445.23" cy="75.67" r="0.9" fill="#222" stroke="none"/>
<path d="M435.31,273.69 L421.99,281.41 L456.04,340.26 L469.36,332.54Z" fill="#fff"/>
<line x1="438.94" y1="283.15" x2="467.98" y2="333.35" stroke-width="0.7" />
<line x1="428.38" y1="289.26" x2="457.42" y2="339.45" stroke-width="0.7" />
<path d="M435.92,274.73 L422.59,282.44 L423.29,283.66 L436.62,275.94Z" fill="#222" stroke="none"/>
<path d="M437.62,277.68 L424.29,285.39 L424.99,286.6 L438.32,278.89Z" fill="#222" stroke="none"/>
<path d="M439.32,280.62 L425.99,288.33 L426.69,289.54 L440.02,281.83Z" fill="#222" stroke="none"/>
<line x1="437.12" y1="276.81" x2="423.79" y2="284.52" stroke-width="0.6" />
<line x1="438.82" y1="279.75" x2="425.49" y2="287.47" stroke-width="0.6" />
<line x1="440.32" y1="282.35" x2="426.99" y2="290.06" stroke-width="0.6" />
<line x1="428.39" y1="277.7" x2="433.4" y2="286.36" stroke-width="0.6" />
<line x1="449.84" y1="298.8" x2="436.51" y2="306.51" />
<line x1="467.61" y1="329.51" x2="454.28" y2="337.23" stroke-width="0.8" />
<line x1="434.66" y1="287.94" x2="461.2" y2="333.8" stroke-width="0.7" stroke-dasharray="5 1.5 1 1.5"/>
<circle cx="436.91" cy="291.83" r="3.2" fill="#fff" stroke-width="1.5"/>
<circle cx="436.91" cy="291.83" r="1.6" fill="#ddd" stroke="none"/>
<circle cx="456.24" cy="325.24" r="3" fill="#fff" stroke-width="1.5"/>
<circle cx="456.24" cy="325.24" r="1.4" fill="#ddd" stroke="none"/>
<circle cx="465.94" cy="332.21" r="1" fill="#fff"/>
<circle cx="457.46" cy="337.12" r="1" fill="#fff"/>
<circle cx="444.43" cy="304.82" r="0.9" fill="#222" stroke="none"/>
<rect x="437.5" y="123.5" width="42" height="30.3" fill="#fff"/>
<path d="M438.4,156.2 V120.6 Q440.2,117.4 442,120.6 V156.2 Q440.2,159.4 438.4,156.2 Z" fill="#fff"/>
<path d="M444.46,156.2 V120.6 Q446.26,117.4 448.06,120.6 V156.2 Q446.26,159.4 444.46,156.2 Z" fill="#fff"/>
<path d="M450.52,156.2 V120.6 Q452.32,117.4 454.12,120.6 V156.2 Q452.32,159.4 450.52,156.2 Z" fill="#fff"/>
<path d="M456.58,156.2 V120.6 Q458.38,117.4 460.18,120.6 V156.2 Q458.38,159.4 456.58,156.2 Z" fill="#fff"/>
<path d="M462.64,156.2 V120.6 Q464.44,117.4 466.24,120.6 V156.2 Q464.44,159.4 462.64,156.2 Z" fill="#fff"/>
<path d="M468.7,156.2 V120.6 Q470.5,117.4 472.3,120.6 V156.2 Q470.5,159.4 468.7,156.2 Z" fill="#fff"/>
<path d="M474.76,156.2 V120.6 Q476.56,117.4 478.36,120.6 V156.2 Q476.56,159.4 474.76,156.2 Z" fill="#fff"/>
<line x1="437.5" y1="153.8" x2="480" y2="153.8" />
<rect x="479.5" y="126" width="6.5" height="25" fill="#fff"/>
<line x1="450" y1="138.5" x2="492" y2="138.5" stroke-width="0.8" stroke-dasharray="12 2 2 2"/>
<rect x="486" y="128" width="2.4" height="23" fill="#fff"/>
<rect x="488.2" y="129" width="2.4" height="4" fill="#333" stroke="none"/>
<rect x="488.2" y="143.5" width="2.4" height="4" fill="#333" stroke="none"/>
<path d="M436.5,112 L447,109.6 Q468.5,117 468.8,144.5 Q469,152.8 461,152.8 L436.5,152.8 Z" fill="#fff" stroke="none"/>
<path d="M447,109.6 Q468.5,117 468.8,144.5 Q469,152.6 461,152.6 H448.6 A4,4 0 0,1 448.6,144.6 H459 Q462.3,144.6 462.3,141 Q461.6,127 451,120.5 Z" fill="#fff"/>
<line x1="451" y1="138.5" x2="462.3" y2="138.5" stroke-width="0.8" />
<path d="M425.2,101.6 L447,109.4 A6,6 0 0,1 447.5,120.6 L425.2,117.2 Z" fill="#fff"/>
<path d="M446.1,111.7 l3,3 l-3,3 l-3,-3 Z" fill="#888" stroke-width="1.2"/>
<line x1="434.9" y1="119.9" x2="425.9" y2="137.5" />
<circle cx="425.7" cy="109.4" r="8.4" fill="#fff"/>
<circle cx="425.7" cy="109.4" r="6.1" />
<line x1="419.6" y1="109.4" x2="431.8" y2="109.4" stroke-width="0.8" />
<line x1="425.7" y1="103.3" x2="425.7" y2="115.5" stroke-width="0.8" />
<path d="M418,195.3 L432.6,188.7 L435.4,194.9 L420.8,201.5 A3.4,3.4 0 0,1 418,195.3 Z" fill="#fff"/>
<circle cx="420.77" cy="197.78" r="1" fill="#000" stroke="none"/>
<path d="M432.2,190.43 L438.2,204.17 L479.4,186.17 L473.4,172.43Z" fill="#fff"/>
<path d="M433.69,188.36 Q434,185.82 436.08,187.31 L443.12,203.44 Q442.81,205.98 440.74,204.48 Z" fill="#fff" stroke-width="0.9"/>
<path d="M437.77,186.57 Q438.08,184.04 440.15,185.53 L447.2,201.66 Q446.89,204.2 444.82,202.7 Z" fill="#fff" stroke-width="0.9"/>
<path d="M441.85,184.79 Q442.16,182.26 444.23,183.75 L451.28,199.88 Q450.97,202.42 448.89,200.92 Z" fill="#fff" stroke-width="0.9"/>
<path d="M445.93,183.01 Q446.24,180.47 448.31,181.97 L455.36,198.1 Q455.04,200.63 452.97,199.14 Z" fill="#fff" stroke-width="0.9"/>
<path d="M450,181.23 Q450.31,178.69 452.39,180.19 L459.43,196.32 Q459.12,198.85 457.05,197.36 Z" fill="#fff" stroke-width="0.9"/>
<path d="M454.08,179.45 Q454.39,176.91 456.46,178.41 L463.51,194.53 Q463.2,197.07 461.13,195.58 Z" fill="#fff" stroke-width="0.9"/>
<path d="M458.16,177.67 Q458.47,175.13 460.54,176.62 L467.59,192.75 Q467.28,195.29 465.21,193.79 Z" fill="#fff" stroke-width="0.9"/>
<path d="M462.24,175.88 Q462.55,173.35 464.62,174.84 L471.67,190.97 Q471.36,193.51 469.28,192.01 Z" fill="#fff" stroke-width="0.9"/>
<path d="M466.32,174.1 Q466.63,171.57 468.7,173.06 L475.74,189.19 Q475.43,191.73 473.36,190.23 Z" fill="#fff" stroke-width="0.9"/>
<line x1="437.27" y1="197.05" x2="476.64" y2="179.85" stroke-width="0.7" />
<path d="M473.8,173.34 L479,185.26 L481.29,184.26 L476.09,172.34Z" fill="#777"/>
<path d="M477.01,174.59 L478.99,179.41 L494.59,173.01 L492.61,168.19Z" fill="#fff"/>
<line x1="479.79" y1="173.46" x2="481.76" y2="178.27" stroke-width="0.6" />
<line x1="482.56" y1="172.32" x2="484.54" y2="177.13" stroke-width="0.6" />
<line x1="485.34" y1="171.18" x2="487.31" y2="175.99" stroke-width="0.6" />
<path d="M414,141.5 Q405,145 403,151 Q402,156 405.5,161 Q411,172 419,185 Q424,191 430,190 L437,178 Z" fill="#fff"/>
<path d="M410,158.5 Q411,156 415,159.5 L424.5,169.5 Q425.5,172.5 422,171.8 Q415,167 410,158.5 Z" fill="#fff"/>
<path d="M414.5,153 L437.1,158.5 L442.6,184.5 A5.4,5.4 0 0,1 432.2,187.8 Z" fill="#fff"/>
<path d="M437.1,182.1 l3,3 l-3,3 l-3,-3 Z" fill="#888" stroke-width="1.2"/>
<path d="M426,172 Q422,180 423.9,188.4 Q425,191 426,193" />
<circle cx="425.5" cy="148.4" r="12" fill="#fff"/>
<circle cx="425.5" cy="148.4" r="7.2" />
<line x1="418.3" y1="148.4" x2="432.7" y2="148.4" stroke-width="0.8" />
<line x1="425.5" y1="141.2" x2="425.5" y2="155.6" stroke-width="0.8" />
<rect x="419" y="222.5" width="15.6" height="2" fill="#fff" stroke-width="0.8"/>
<line x1="420" y1="222.5" x2="421" y2="224.5" stroke-width="0.6" />
<line x1="422" y1="222.5" x2="423" y2="224.5" stroke-width="0.6" />
<line x1="424" y1="222.5" x2="425" y2="224.5" stroke-width="0.6" />
<line x1="426" y1="222.5" x2="427" y2="224.5" stroke-width="0.6" />
<line x1="428" y1="222.5" x2="429" y2="224.5" stroke-width="0.6" />
<line x1="430" y1="222.5" x2="431" y2="224.5" stroke-width="0.6" />
<line x1="432" y1="222.5" x2="433" y2="224.5" stroke-width="0.6" />
<rect x="419" y="247.2" width="15.6" height="2" fill="#fff" stroke-width="0.8"/>
<line x1="420" y1="247.2" x2="421" y2="249.2" stroke-width="0.6" />
<line x1="422" y1="247.2" x2="423" y2="249.2" stroke-width="0.6" />
<line x1="424" y1="247.2" x2="425" y2="249.2" stroke-width="0.6" />
<line x1="426" y1="247.2" x2="427" y2="249.2" stroke-width="0.6" />
<line x1="428" y1="247.2" x2="429" y2="249.2" stroke-width="0.6" />
<line x1="430" y1="247.2" x2="431" y2="249.2" stroke-width="0.6" />
<line x1="432" y1="247.2" x2="433" y2="249.2" stroke-width="0.6" />
<line x1="434.6" y1="222.5" x2="434.6" y2="249.2" />
<rect x="435.3" y="215.4" width="6.2" height="38.7" rx="1.5" fill="#fff"/>
<rect x="441.5" y="219.5" width="38" height="32" fill="#fff"/>
<path d="M445,252 V218.6 Q446.7,215.3 448.4,218.6 V252 Q446.7,255.3 445,252 Z" fill="#fff"/>
<path d="M450.95,252 V218.6 Q452.65,215.3 454.35,218.6 V252 Q452.65,255.3 450.95,252 Z" fill="#fff"/>
<path d="M456.9,252 V218.6 Q458.6,215.3 460.3,218.6 V252 Q458.6,255.3 456.9,252 Z" fill="#fff"/>
<path d="M462.85,252 V218.6 Q464.55,215.3 466.25,218.6 V252 Q464.55,255.3 462.85,252 Z" fill="#fff"/>
<path d="M468.8,252 V218.6 Q470.5,215.3 472.2,218.6 V252 Q470.5,255.3 468.8,252 Z" fill="#fff"/>
<path d="M474.75,252 V218.6 Q476.45,215.3 478.15,218.6 V252 Q476.45,255.3 474.75,252 Z" fill="#fff"/>
<path d="M479.5,221.1 H484 Q486.2,221.1 486.2,223.5 V248.5 Q486.2,250.8 484,250.8 H479.5 Z" fill="#fff"/>
<line x1="423" y1="235.6" x2="490" y2="235.6" stroke-width="0.9" stroke-dasharray="15.6 1.7 0.8 1.7" stroke="#222"/>
<rect x="427" y="231" width="6.8" height="9" rx="1" fill="#bbb"/>
<line x1="429.3" y1="231" x2="429.3" y2="240" stroke-width="0.7" />
<line x1="431.6" y1="231" x2="431.6" y2="240" stroke-width="0.7" />
<rect x="488.7" y="224.8" width="3" height="5" fill="#333" stroke="none"/>
<rect x="488.7" y="240.5" width="3" height="5" fill="#333" stroke="none"/>
<line x1="493.6" y1="126.6" x2="493.6" y2="248.3" stroke-width="1.8" stroke="#444"/>
<line x1="512.8" y1="126.6" x2="512.8" y2="248.3" stroke-width="2" stroke="#555"/>
<rect x="493.3" y="99.5" width="17.7" height="21.5" fill="#fff"/>
<rect x="493.3" y="121" width="54.4" height="3.3" fill="#fff"/>
<path d="M518.5,126.6 H491.8 Q488.4,126.6 488.4,130 V152" />
<path d="M495.6,121 V117.6 L496.6,115.6 H498.6 L499.6,117.6 V121 Z" fill="#999" stroke-width="1.1"/>
<line x1="497.6" y1="115.6" x2="497.6" y2="121" stroke-width="0.6" />
<rect x="495.8" y="124.3" width="3.6" height="2.3" fill="#666" stroke-width="0.7"/>
<path d="M509.3,121 V117.6 L510.3,115.6 H512.3 L513.3,117.6 V121 Z" fill="#999" stroke-width="1.1"/>
<line x1="511.3" y1="115.6" x2="511.3" y2="121" stroke-width="0.6" />
<rect x="509.5" y="124.3" width="3.6" height="2.3" fill="#666" stroke-width="0.7"/>
<circle cx="503.3" cy="139.2" r="7.1" fill="#fff" stroke-width="1.5"/>
<circle cx="503.3" cy="139.2" r="5.3" />
<line x1="497.8" y1="139.7" x2="508.4" y2="139.7" stroke-width="0.8" />
<line x1="503.1" y1="134.4" x2="503.1" y2="145" stroke-width="0.8" />
<path d="M498.4,168.8 L500.8,165.2 H505.7 L508.1,168.8 L505.7,172.3 H500.8 Z" fill="#222" stroke="none"/>
<circle cx="503.2" cy="168.8" r="2.4" fill="#aaa" stroke="none"/>
<line x1="503.2" y1="163.2" x2="503.2" y2="174.7" stroke-width="0.9" stroke="#111"/>
<circle cx="502.6" cy="220.3" r="5.8" fill="#fff"/>
<circle cx="502.6" cy="220.3" r="3.5" />
<line x1="498" y1="220.3" x2="507.2" y2="220.3" stroke-width="0.8" />
<line x1="502.6" y1="215.7" x2="502.6" y2="224.9" stroke-width="0.8" />
<rect x="495.6" y="235.5" width="14" height="3.9" rx="1.9" fill="#fff"/>
<path d="M488.7,226 V245 Q488.7,248.3 492,248.3 H519" />
<rect x="488" y="249.5" width="63.6" height="3.5" fill="#fff"/>
<rect x="493.3" y="253" width="19.4" height="21" fill="#fff"/>
<path d="M495.3,249.5 V247 Q497,245 498.7,247 V249.5 Z" fill="#666" stroke-width="0.8"/>
<path d="M509.5,249.5 V247 Q511.2,245 512.9,247 V249.5 Z" fill="#666" stroke-width="0.8"/>
<path d="M495,253 V256.4 Q496.8,259.6 498.6,256.4 V253 Z" fill="#666" stroke-width="0.8"/>
<path d="M509.2,253 V256.4 Q511,259.6 512.8,256.4 V253 Z" fill="#666" stroke-width="0.8"/>
<path d="M426,263.3 L445.6,257.2 A5.4,5.4 0 0,1 447.6,267.6 L430,279 Z" fill="#fff"/>
<circle cx="444.9" cy="262.6" r="1.4" />
<circle cx="425.7" cy="271.7" r="8.4" fill="#fff"/>
<circle cx="425.7" cy="271.7" r="5.6" />
<line x1="420.1" y1="271.7" x2="431.3" y2="271.7" stroke-width="0.8" />
<line x1="425.7" y1="266.1" x2="425.7" y2="277.3" stroke-width="0.8" />
<line x1="503.14" y1="129.41" x2="592.34" y2="191.21" stroke-width="1.15" stroke-dasharray="16 1 1 1 1 1" stroke="#1a1a1a"/>
<line x1="502.46" y1="130.39" x2="591.66" y2="192.19" stroke-width="1.15" stroke-dasharray="16 1 1 1 1 1" stroke="#1a1a1a"/>
<line x1="592" y1="191.7" x2="596.7" y2="194.9" stroke-width="1.1" />
<line x1="494.35" y1="144.01" x2="580.25" y2="206.51" stroke-width="1.15" stroke-dasharray="16 1 1 1 1 1" stroke="#1a1a1a"/>
<line x1="493.65" y1="144.99" x2="579.55" y2="207.49" stroke-width="1.15" stroke-dasharray="16 1 1 1 1 1" stroke="#1a1a1a"/>
<line x1="579.9" y1="207" x2="584.6" y2="210.8" stroke-width="1.1" />
<line x1="596.7" y1="194.9" x2="584.6" y2="210.8" stroke-width="1.1" />
<line x1="591.1" y1="192.4" x2="579.9" y2="208" stroke-width="1.0" />
<line x1="549.8" y1="252.4" x2="586.2" y2="214" stroke-width="0.9" />
<line x1="548.4" y1="250.3" x2="552.6" y2="255.2" stroke-width="0.9" />
<line x1="583.6" y1="209.8" x2="590.2" y2="216.4" stroke-width="0.9" />
<path d="M549.8,252.4 L552.72,247.59 L554.46,249.24Z" fill="#111" stroke="none"/>
<path d="M586.2,214 L583.28,218.81 L581.54,217.16Z" fill="#111" stroke="none"/>
<text x="0" y="0" font-size="11" text-anchor="middle" transform="translate(567.8,231.5) rotate(-46.5)">&gt;150</text>
<line x1="596.5" y1="194.8" x2="596.5" y2="362" />
<line x1="414.8" y1="358.4" x2="596.5" y2="358.4" />
<path d="M414.8,358.4 L422.3,357.25 L422.3,359.55Z" fill="#111" stroke="none"/>
<path d="M596.5,358.4 L589,359.55 L589,357.25Z" fill="#111" stroke="none"/>
<text x="506.7" y="355.7" font-size="11" text-anchor="middle">C</text>
<text x="252.4" y="405.7" font-size="12" fill="#1a1a1a" stroke="none" textLength="69.2" lengthAdjust="spacingAndGlyphs">GN24-12SD 2</text>
<path transform="translate(323.2,397.0) scale(0.97)" d="M0.5,1 H6.2 M0.3,4 H6.5 M2.2,1 V4.2 Q2,6 0.5,6.8 M4.6,1 V6.6 M7.4,1.5 V4.6 M9.4,0.3 V6 Q9.4,6.8 8.4,6.6 M1.6,7.6 H8.4 M5,6.3 V9.6 M0,9.7 H10" fill="none" stroke="#1a1a1a" stroke-width="1.15" stroke-linecap="square"/>
<path transform="translate(335.0,397.0) scale(0.97)" d="M2.6,0 Q2,2.5 0.4,4.2 M2,2 H4.8 Q4.2,6.5 0.4,9.8 M1.4,4.2 L3.6,5.8 M7,0 V10 M7.4,4.3 L9.6,6" fill="none" stroke="#1a1a1a" stroke-width="1.15" stroke-linecap="square"/>
<path transform="translate(346.1,397.0) scale(0.97)" d="M0.2,1 H6 M0,4.7 H6.4 M2,1 V6.5 Q1.8,8.8 0.3,10 M4.5,1 V10 M9.6,0.3 L7,3 M9.8,3.4 L6.8,6.6 M10,6.3 L6.2,10" fill="none" stroke="#1a1a1a" stroke-width="1.15" stroke-linecap="square"/>
<path transform="translate(357.9,397.1) scale(0.97)" d="M0.5,0.3 H9.5 V9.7 H0.5 Z M4,1.6 Q3.4,3 2,4 M3.6,2.4 H7 Q5.5,5 2.2,6 M4.4,3.6 Q6,5.4 8,6 M4.4,6.8 L5.8,7.4 M3.8,8.4 L5.4,9" fill="none" stroke="#1a1a1a" stroke-width="1.15" stroke-linecap="square"/>
</svg>
</body></html>
